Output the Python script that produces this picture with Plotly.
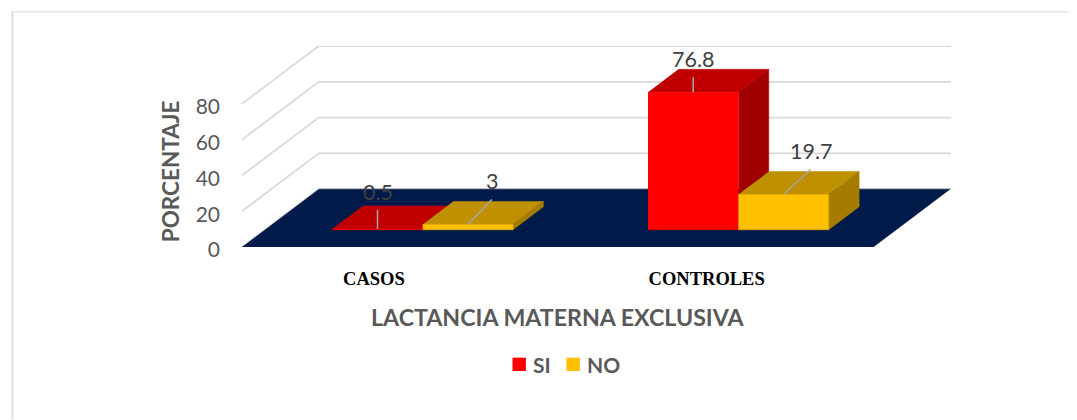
import plotly.graph_objects as go

# ---------- data ----------
categories = ["CASOS", "CONTROLES"]
series_names = ["SI", "NO"]
si_values = [0.5, 76.8]
no_values = [3, 19.7]
y_ticks = [0, 20, 40, 60, 80]
x_title = "LACTANCIA MATERNA EXCLUSIVA"
y_title = "PORCENTAJE"

# ---------- style / geometry ----------
PAGE = 8                                     # browser page margin around the figure
W, H = 1077 - PAGE, 420 - PAGE
L, R, T, B = 241.7, 951.0, 45.7, 247.3       # plot box in window pixels
UNIT_X = 315.8                               # pixels for one category
UNIT_Y = 1.795                               # pixels for one percent
SHEAR_X = 76.7 / UNIT_X                      # depth shift, in category units
SHEAR_Y = 58.0 / UNIT_Y                      # depth shift, in percent units
BAR_W = 0.2862
D0, D1 = 0.298, 0.695                        # bar depth extent on the floor
front = {"SI": "#FF0000", "NO": "#FFC000"}
top = {"SI": "#C00000", "NO": "#BF9000"}
side = {"SI": "#A00000", "NO": "#A67C00"}
FLOOR = "#001A4A"
GRID = "#D9D9D9"
TXT = "#595959"
LBL = "#404040"
SANS = "Lato, 'Open Sans', sans-serif"
TICK_POS = [0.418, 1.472]


def proj(c, d, v):
    """oblique projection: category pos, depth 0..1, value -> axis coordinates"""
    return c + d * SHEAR_X, v + d * SHEAR_Y


def poly(points, color, name, group):
    xs, ys = zip(*[proj(*p) for p in points])
    return go.Scatter(x=xs, y=ys, mode="lines", fill="toself", fillcolor=color,
                      line=dict(color=color, width=0.5), hoverinfo="skip",
                      name=name, legendgroup=group, showlegend=False)


fig = go.Figure()
last_c = len(categories)

# walls
for t in y_ticks:
    xs, ys = zip(proj(0, 0, t), proj(0, 1, t), proj(last_c, 1, t))
    xs = list(xs)
    xs[-1] = (R - L) / UNIT_X
    fig.add_trace(go.Scatter(x=xs, y=list(ys), mode="lines", line=dict(color=GRID, width=1.75),
                             hoverinfo="skip", showlegend=False))
# floor
fig.add_trace(poly([(0, 0, 0), (last_c, 0, 0), (last_c, 1, 0), (0, 1, 0)], FLOOR, "floor", "floor"))

# bars
all_values = {"SI": si_values, "NO": no_values}
label_offsets = {
    ("SI", 0): {"lead": (0, 19), "text": (0, 36.5)},
    ("NO", 0): {"lead": (24, 25), "text": (24, 43.5)},
    ("SI", 1): {"lead": (0, 15), "text": (0, 33.5)},
    ("NO", 1): {"lead": (27, 25), "text": (27, 44)},
}


def px(x):
    return (x - L) / (R - L)


def py(y):
    return (B - y) / (B - T)


shapes, annotations = [], []
for ci, cat in enumerate(categories):
    for si, s in enumerate(series_names):
        v = all_values[s][ci]
        x0 = ci + 0.5 - BAR_W + si * BAR_W
        x1 = x0 + BAR_W
        fig.add_trace(poly([(x0, D0, v), (x1, D0, v), (x1, D1, v), (x0, D1, v)], top[s], s, s))
        fig.add_trace(poly([(x1, D0, 0), (x1, D1, 0), (x1, D1, v), (x1, D0, v)], side[s], s, s))
        fig.add_trace(poly([(x0, D0, 0), (x1, D0, 0), (x1, D0, v), (x0, D0, v)], front[s], s, s))
        ax, ay = proj((x0 + x1) / 2, D0, v)
        off = label_offsets[(s, ci)]
        shapes.append(dict(type="line", xsizemode="pixel", ysizemode="pixel",
                           xanchor=ax, yanchor=ay, xref="x", yref="y",
                           x0=0, y0=0, x1=off["lead"][0], y1=off["lead"][1],
                           line=dict(color="#A6A6A6", width=1.5)))
        annotations.append(dict(x=ax, y=ay, xref="x", yref="y", text=f"{v:g}", showarrow=False,
                                xanchor="center", yanchor="middle",
                                xshift=off["text"][0], yshift=off["text"][1],
                                font=dict(family=SANS, size=21.5, color=LBL)))

annotations += [
    dict(x=px(558), y=py(318), xref="paper", yref="paper", text=f"<b>{x_title}</b>", showarrow=False,
         xanchor="center", yanchor="middle", font=dict(family=SANS, size=23.2, color=TXT)),
    dict(x=px(171), y=py(171), xref="paper", yref="paper", text=f"<b>{y_title}</b>", showarrow=False,
         xanchor="center", yanchor="middle", textangle=-90, font=dict(family=SANS, size=22.5, color=TXT)),
]

# legend keys
legend_key_x = {"SI": (512.3, 525.7), "NO": (566.3, 579.7)}
legend_text_x = {"SI": 531, "NO": 585}
for s in series_names:
    k0, k1 = legend_key_x[s]
    shapes.append(dict(type="rect", xref="paper", yref="paper", x0=px(k0), x1=px(k1), y0=py(358.3), y1=py(371.7),
                       fillcolor=front[s], line=dict(width=0)))
    annotations.append(dict(x=px(legend_text_x[s]), y=py(365), xref="paper", yref="paper",
                            xanchor="left", yanchor="middle",
                            text=f"<b>{s}</b>", showarrow=False,
                            font=dict(family=SANS, size=21, color=TXT)))

# outer frame: left and top rules, running off the right and bottom of the page
shapes += [
    dict(type="line", xref="paper", yref="paper", x0=px(12), x1=px(12), y0=py(11), y1=py(420),
         line=dict(color="#DDDDDD", width=2), layer="below"),
    dict(type="line", xref="paper", yref="paper", x0=px(11), x1=px(1077), y0=py(11.5), y1=py(11.5),
         line=dict(color="#DDDDDD", width=1), layer="below"),
]

fig.update_layout(
    width=W, height=H, autosize=False,
    margin=dict(l=L - PAGE, r=W + PAGE - R, t=T - PAGE, b=H + PAGE - B, pad=0),
    paper_bgcolor="white", plot_bgcolor="white",
    xaxis=dict(range=[0, (R - L) / UNIT_X], tickmode="array", tickvals=TICK_POS, ticktext=categories,
               showgrid=False, zeroline=False, showline=False, ticks="", ticklabelstandoff=18,
               tickfont=dict(family="'Liberation Serif', serif", size=18.5, color="black", weight="bold")),
    yaxis=dict(range=[0, (B - T) / UNIT_Y], tickmode="array", tickvals=y_ticks,
               showgrid=False, zeroline=False, showline=False, ticks="", ticklabelstandoff=21,
               ticklabelshift=3,
               tickfont=dict(family=SANS, size=21, color=TXT)),
    shapes=shapes, annotations=annotations,
    showlegend=False,
)
fig.write_html("out.html")
